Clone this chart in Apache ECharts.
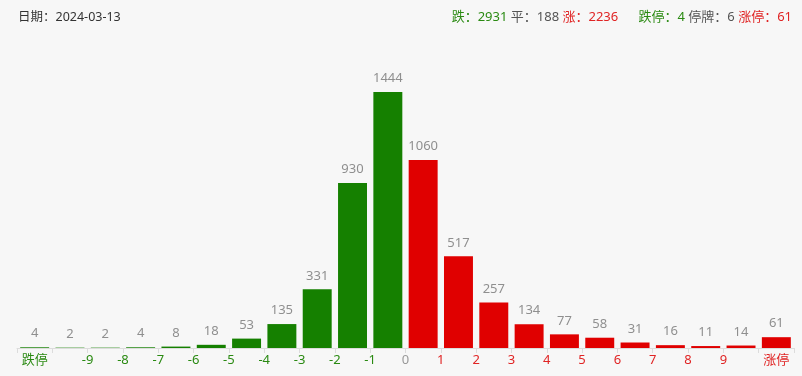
<!DOCTYPE html>
<html>
<head>
<meta charset="utf-8">
<script src="https://cdn.jsdelivr.net/npm/echarts@6/dist/echarts.min.js"></script>
<style>
  html, body { margin: 0; padding: 0; background: #f7f7f7; }
  #chart { width: 802px; height: 376px; }
</style>
</head>
<body>
<div id="chart"></div>
<script>
// 涨跌分布
const tradeDate = "2024-03-13";
const categories = ["跌停", "-10~-9", "-9~-8", "-8~-7", "-7~-6", "-6~-5", "-5~-4", "-4~-3", "-3~-2", "-2~-1", "-1~0",
  "0~1", "1~2", "2~3", "3~4", "4~5", "5~6", "6~7", "7~8", "8~9", "9~10", "涨停"];
const counts = [4, 2, 2, 4, 8, 18, 53, 135, 331, 930, 1444, 1060, 517, 257, 134, 77, 58, 31, 16, 11, 14, 61];
// 分界刻度的标签（0..22）
const boundaryLabels = ["", "", "-9", "-8", "-7", "-6", "-5", "-4", "-3", "-2", "-1", "0",
  "1", "2", "3", "4", "5", "6", "7", "8", "9", "", ""];
const summary = { down: 2931, flat: 188, up: 2236, limitDown: 4, suspended: 6, limitUp: 61 };

const GREEN = "#158000";
const RED = "#e00000";
const GREEN_TXT = "#2a8a12";
const RED_TXT = "#e02424";
const FONT = "'Noto Sans', 'Noto Sans CJK SC', sans-serif";

let myChart = echarts.init(document.getElementById("chart"));
let option = {
  backgroundColor: "#f7f7f7",
  textStyle: { fontFamily: FONT },
  title: [
    {
      text: "日期：" + tradeDate,
      left: 13,
      top: 6,
      textStyle: { fontSize: 12.5, fontWeight: "normal", color: "#333", fontFamily: FONT },
    },
    {
      text:
        "{g|跌：" + summary.down + "} {n|平：" + summary.flat + "} {r|涨：" + summary.up + "}" +
        "      {g|跌停：" + summary.limitDown + "} {n|停牌：" + summary.suspended + "} {r|涨停：" + summary.limitUp + "}",
      right: 5,
      top: 6,
      textStyle: {
        fontSize: 13,
        fontWeight: "normal",
        fontFamily: FONT,
        rich: {
          g: { color: GREEN_TXT, fontSize: 13, fontFamily: FONT },
          n: { color: "#555", fontSize: 13, fontFamily: FONT },
          r: { color: RED_TXT, fontSize: 13, fontFamily: FONT },
        },
      },
    },
  ],
  grid: { left: 17, right: 8, top: 92, bottom: 28 },
  xAxis: [
    {
      type: "category",
      data: categories,
      axisLine: { lineStyle: { color: "#dcdcdc" } },
      axisTick: { show: true, lineStyle: { color: "#dcdcdc" }, length: 5 },
      axisLabel: {
        interval: 0,
        margin: 6,
        fontSize: 13,
        fontFamily: FONT,
        formatter: function (v, i) {
          return i === 0 || i === categories.length - 1 ? v : "";
        },
        color: function (v, i) {
          return i === 0 ? GREEN_TXT : RED_TXT;
        },
      },
    },
    {
      type: "value",
      position: "bottom",
      min: 0,
      max: categories.length,
      interval: 1,
      axisLine: { show: false },
      axisTick: { show: false },
      splitLine: { show: false },
      axisLabel: {
        margin: 6,
        fontSize: 13,
        fontFamily: FONT,
        showMinLabel: true,
        showMaxLabel: true,
        formatter: function (v) {
          return boundaryLabels[Math.round(v)] || "";
        },
        color: function (v) {
          const n = Number(boundaryLabels[Math.round(v)]);
          if (n < 0) return GREEN_TXT;
          if (n > 0) return RED_TXT;
          return "#999";
        },
      },
    },
  ],
  yAxis: {
    type: "value",
    min: 0,
    max: "dataMax",
    show: false,
  },
  series: [
    {
      type: "bar",
      xAxisIndex: 0,
      data: counts,
      barCategoryGap: "18%",
      itemStyle: {
        color: function (p) {
          return p.dataIndex < 11 ? GREEN : RED;
        },
      },
      label: {
        show: true,
        position: "top",
        distance: 7,
        color: "#8f8f8f",
        fontSize: 13,
        fontFamily: FONT,
      },
    },
  ],
};
option && myChart.setOption(option, true);
</script>
</body>
</html>
